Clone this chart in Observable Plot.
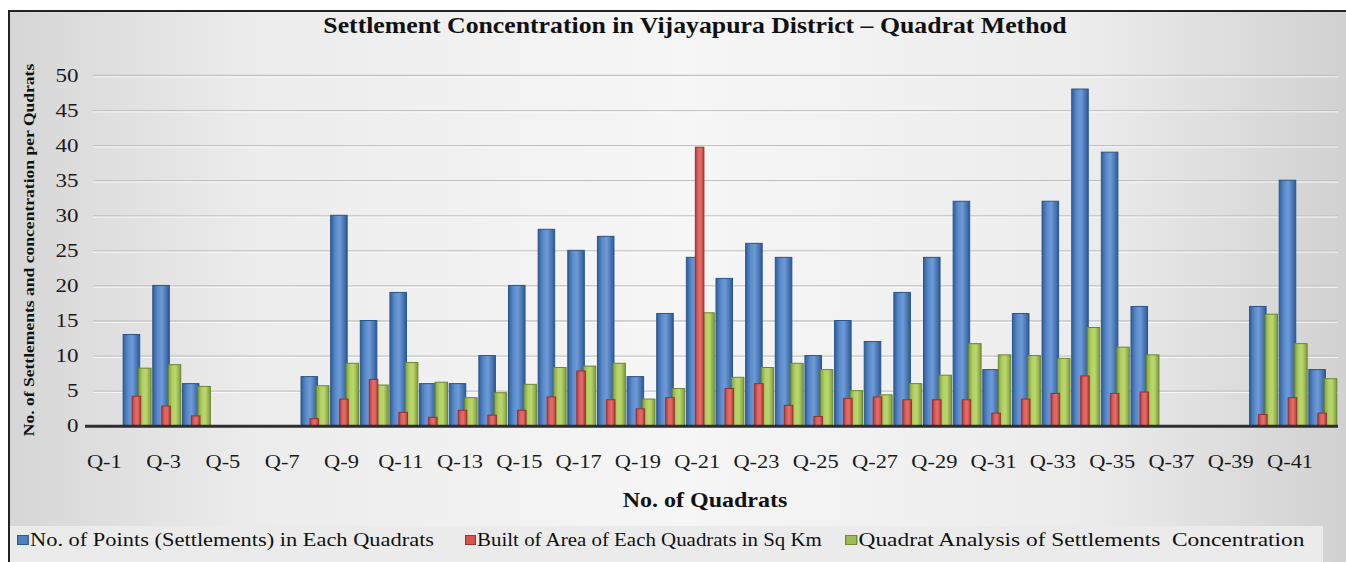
<!DOCTYPE html>
<html>
<head>
<meta charset="utf-8">
<script src="https://cdn.jsdelivr.net/npm/d3@7"></script>
<script src="https://cdn.jsdelivr.net/npm/@observablehq/plot@0.6"></script>
<style>
  html, body { margin: 0; padding: 0; }
  body { width: 1346px; height: 562px; position: relative; overflow: hidden; background: #fff; font-family: "Liberation Serif", "Times New Roman", serif; }
  #frame { position: absolute; left: 8px; top: 10px; width: 1346px; height: 560px;
    border-left: 2px solid #222; border-top: 2px solid #222;
    background: linear-gradient(to right, #d6d6d6 0%, #ececec 18%, #f6f6f6 50%, #ececec 80%, #d0d0d0 100%); }
  .ht { position: absolute; white-space: nowrap; color: #111; transform-origin: 0 0; }
  #title { left: 695px; top: 13px; transform: translateX(-50%) scaleX(1.12); transform-origin: 50% 50%;
    font-weight: bold; font-size: 23px; }
  #ytitle { left: 29px; top: 250px; transform: translate(-50%, -50%) rotate(-90deg) scaleX(1.17); transform-origin: 50% 50%;
    font-weight: bold; font-size: 15px; }
  #chart { position: absolute; left: 0; top: 40px; width: 1346px; }
  #xtitle { left: 705px; top: 489px; transform: translateX(-50%) scaleX(1.2); transform-origin: 50% 50%;
    font-weight: bold; font-size: 20px; }
  #legendband { position: absolute; left: 10px; top: 526px; width: 1313px; height: 36px; background: #ebebeb; }
  .leg { top: 529px; font-size: 19px; }
  .sw { display: inline-block; width: 8px; height: 8px; margin-right: 1px; vertical-align: 1px; }
</style>
</head>
<body>
<div id="frame"></div>
<div id="title" class="ht">Settlement Concentration in Vijayapura District – Quadrat Method</div>
<div id="ytitle" class="ht">No. of Settlements and concentration per Qudrats</div>
<div id="chart"></div>
<div id="xtitle" class="ht">No. of Quadrats</div>
<div id="legendband"></div>
<div class="ht leg" style="left:17px;transform:scaleX(1.18)"><span class="sw" style="background:#4f81bd;border:1px solid #2c5a90"></span>No. of Points (Settlements) in Each Quadrats</div>
<div class="ht leg" style="left:465px;transform:scaleX(1.10)"><span class="sw" style="background:#d9534f;border:1px solid #9c3431"></span>Built of Area of Each Quadrats in Sq Km</div>
<div class="ht leg" style="left:845px;transform:scaleX(1.23)"><span class="sw" style="background:#9bbb59;border:1px solid #6f8a36"></span>Quadrat Analysis of Settlements&nbsp; Concentration</div>
<script>
const quadrats = ["Q-1","Q-2","Q-3","Q-4","Q-5","Q-6","Q-7","Q-8","Q-9","Q-10",
  "Q-11","Q-12","Q-13","Q-14","Q-15","Q-16","Q-17","Q-18","Q-19","Q-20",
  "Q-21","Q-22","Q-23","Q-24","Q-25","Q-26","Q-27","Q-28","Q-29","Q-30",
  "Q-31","Q-32","Q-33","Q-34","Q-35","Q-36","Q-37","Q-38","Q-39","Q-40",
  "Q-41","Q-42"];
const tickLabels = ["Q-1","Q-3","Q-5","Q-7","Q-9","Q-11","Q-13","Q-15","Q-17","Q-19","Q-21",
  "Q-23","Q-25","Q-27","Q-29","Q-31","Q-33","Q-35","Q-37","Q-39","Q-41"];
const yTicks = [0, 5, 10, 15, 20, 25, 30, 35, 40, 45, 50];
const seriesNames = ["No. of Points (Settlements) in Each Quadrats", "Built of Area of Each Quadrats in Sq Km", "Quadrat Analysis of Settlements  Concentration"];
const points = [0, 13, 20, 6, 0, 0, 0, 7, 30, 15,
  19, 6, 6, 10, 20, 28, 25, 27, 7, 16,
  24, 21, 26, 24, 10, 15, 12, 19, 24, 32,
  8, 16, 32, 48, 39, 17, 0, 0, 0, 17,
  35, 8];
const builtArea = [0, 4.2, 2.8, 1.4, 0, 0, 0, 1.0, 3.8, 6.6,
  1.9, 1.2, 2.2, 1.5, 2.2, 4.1, 7.8, 3.7, 2.4, 4.0,
  39.7, 5.3, 6.0, 2.9, 1.3, 3.9, 4.1, 3.7, 3.7, 3.7,
  1.8, 3.8, 4.6, 7.1, 4.6, 4.8, 0, 0, 0, 1.6,
  4.0, 1.8];
const concentration = [0, 8.2, 8.7, 5.6, 0, 0, 0, 5.7, 8.9, 5.8,
  9.0, 6.2, 4.0, 4.7, 5.9, 8.3, 8.5, 8.9, 3.8, 5.3,
  16.1, 6.9, 8.3, 8.9, 8.0, 5.0, 4.4, 6.0, 7.2, 11.7,
  10.1, 10.0, 9.6, 14.0, 11.2, 10.1, 0, 0, 0, 15.9,
  11.7, 6.7];

const rows = (vals) => quadrats.map((q, i) => ({q, v: vals[i]}));
const gridVals = yTicks.filter(d => d > 0);

const plot = Plot.plot({
  width: 1346,
  height: 445,
  marginLeft: 93,
  marginRight: 8,
  marginTop: 35,
  marginBottom: 59.3,
  style: {background: "transparent", fontFamily: "'Liberation Serif', serif", fontSize: "19px", color: "#1a1a1a"},
  x: {domain: quadrats, padding: 0, round: false, label: null},
  y: {domain: [0, 50], label: null},
  marks: [
    Plot.ruleY(gridVals, {stroke: "#c2c2c2", strokeWidth: 1.3}),
    Plot.ruleY(gridVals, {stroke: "#ffffff", strokeOpacity: 0.8, dy: 1.3}),
    Plot.barY(rows(points), {x: "q", y: "v", fill: "url(#gBlue)", stroke: "#2a548a", strokeWidth: 1, insetLeft: 0.5, insetRight: 12.6}),
    Plot.barY(rows(concentration), {x: "q", y: "v", fill: "url(#gGreen)", stroke: "#6c8632", strokeWidth: 1, insetLeft: 16, insetRight: 1.2}),
    Plot.barY(rows(builtArea), {x: "q", y: "v", fill: "url(#gRed)", stroke: "#9a302e", strokeWidth: 1, insetLeft: 9.5, insetRight: 11.6}),
    Plot.ruleY([0], {stroke: "#2e2e2e", strokeWidth: 3, insetLeft: -8}),
    Plot.axisX({ticks: tickLabels, tickSize: 0, tickPadding: 28, dx: -4, label: null, fontSize: 19}),
    Plot.axisY({ticks: yTicks, tickSize: 0, tickPadding: 15, label: null, fontSize: 19.5})
  ]
});

const svg = d3.select(plot);
const defs = svg.insert("defs", ":first-child");
function grad(id, stops) {
  const g = defs.append("linearGradient").attr("id", id).attr("x1", "0").attr("x2", "1").attr("y1", "0").attr("y2", "0");
  stops.forEach(([o, c]) => g.append("stop").attr("offset", o).attr("stop-color", c));
}
grad("gBlue", [["0%", "#2f5f9c"], ["30%", "#5b8bcb"], ["55%", "#6e9bd6"], ["80%", "#4a78b6"], ["100%", "#2c5a94"]]);
grad("gRed", [["0%", "#b43d3a"], ["35%", "#e0625e"], ["60%", "#e46d68"], ["100%", "#b23c39"]]);
grad("gGreen", [["0%", "#84a23e"], ["35%", "#b3d266"], ["60%", "#b9d76c"], ["100%", "#7f9b39"]]);

// widen the tick label glyphs horizontally like the reference (position kept in the translate)
plot.querySelectorAll("text").forEach(t => {
  const tr = t.getAttribute("transform");
  if (tr && tr.includes("translate")) t.setAttribute("transform", tr + " scale(1.18,1)");
});

document.getElementById("chart").appendChild(plot);
</script>
</body>
</html>
